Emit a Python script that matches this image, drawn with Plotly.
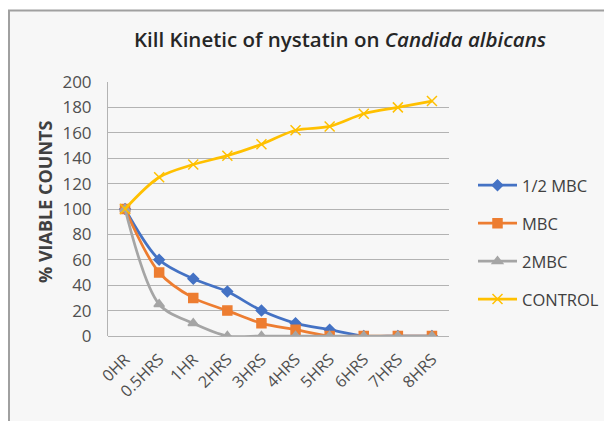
import plotly.graph_objects as go

categories = ["0HR", "0.5HRS", "1HR", "2HRS", "3HRS", "4HRS", "5HRS", "6HRS", "7HRS", "8HRS"]
half_mbc = [100, 60, 45, 35, 20, 10, 5, 0, 0, 0]
mbc = [100, 50, 30, 20, 10, 5, 0, 0, 0, 0]
two_mbc = [100, 25, 10, 0, 0, 0, 0, 0, 0, 0]
control = [100, 125, 135, 142, 151, 162, 165, 175, 180, 185]
y_ticks = [0, 20, 40, 60, 80, 100, 120, 140, 160, 180, 200]

# the page body has an 8px margin; figure coordinates = page coordinates - 8
OFF = 8
W, H = 612 - OFF, 421 - OFF
L, T = 108 - OFF, 82 - OFF
R = W - (449 - OFF)
B = H - (336 - OFF)
pw, ph = W - L - R, H - T - B

def px(x):
    return (x - OFF - L) / pw

def py(y):
    return (H - B - (y - OFF)) / ph

series = [
    ("1/2 MBC", half_mbc, "#4472C4", "diamond", 8),
    ("MBC", mbc, "#ED7D31", "square", 9),
    ("2MBC", two_mbc, "#A5A5A5", "triangle-up", 9),
    ("CONTROL", control, "#FFC000", "x-thin-open", 10),
]

fig = go.Figure()
for i, (name, vals, col, sym, size) in enumerate(series):
    fig.add_trace(go.Scatter(
        x=categories, y=vals, name=name, mode="lines+markers",
        line=dict(color=col, width=2.75, shape="spline", smoothing=0.9),
        marker=dict(symbol=sym, size=size, color=col, line=dict(color=col, width=1.5)),
        legendgroup=str(i),
    ))

fig.add_shape(type="rect", xref="paper", yref="paper",
              x0=px(OFF), x1=px(640), y0=py(440), y1=py(10),
              fillcolor="#f7f7f7", line=dict(width=0), layer="below")
fig.add_shape(type="line", xref="paper", yref="paper",
              x0=px(OFF), x1=px(640), y0=py(10.5), y1=py(10.5),
              line=dict(color="#a0a0a0", width=2), layer="below")
fig.add_shape(type="line", xref="paper", yref="paper",
              x0=px(OFF + 1), x1=px(OFF + 1), y0=py(10), y1=py(440),
              line=dict(color="#a0a0a0", width=2), layer="below")

fig.add_annotation(
    text="<b>% VIABLE COUNTS</b>", textangle=-90,
    xref="paper", yref="paper", x=px(45), y=py(202),
    xanchor="center", yanchor="middle", showarrow=False,
    font=dict(size=18, color="#404040"),
)

fig.update_layout(
    width=W, height=H,
    margin=dict(l=L, r=R, t=T, b=B, autoexpand=False),
    paper_bgcolor="white", plot_bgcolor="#f7f7f7",
    font=dict(family="Open Sans, sans-serif", color="#505050"),
    title=dict(
        text="Kill Kinetic of nystatin on <i>Candida albicans</i>",
        xref="container", x=(340 - OFF) / W, xanchor="center",
        yref="container", y=1 - (40 - OFF) / H, yanchor="middle",
        font=dict(size=20.5, color="#262626", family="Open Sans, sans-serif", weight=600),
    ),
    showlegend=True,
    legend=dict(
        x=px(473), xanchor="left", y=py(168), yanchor="top",
        font=dict(size=16.5, color="#404040"),
        tracegroupgap=13.5, bgcolor="rgba(0,0,0,0)", itemwidth=39,
    ),
    xaxis=dict(
        type="category", tickangle=-45, showgrid=False,
        showline=False, ticks="", automargin=False, ticklabelstandoff=10,
        tickfont=dict(size=16, color="#505050"),
        range=[-0.5, 9.5],
    ),
    yaxis=dict(
        range=[0, 200], tickvals=y_ticks, showgrid=True,
        gridcolor="#b3b3b3", gridwidth=1,
        showline=True, linecolor="#b3b3b3", linewidth=1,
        zeroline=True, zerolinecolor="#b3b3b3", zerolinewidth=1,
        ticks="", ticklen=0, automargin=False, ticklabelstandoff=12,
        tickfont=dict(size=17, color="#505050"),
    ),
)

fig.write_html("out.html")
